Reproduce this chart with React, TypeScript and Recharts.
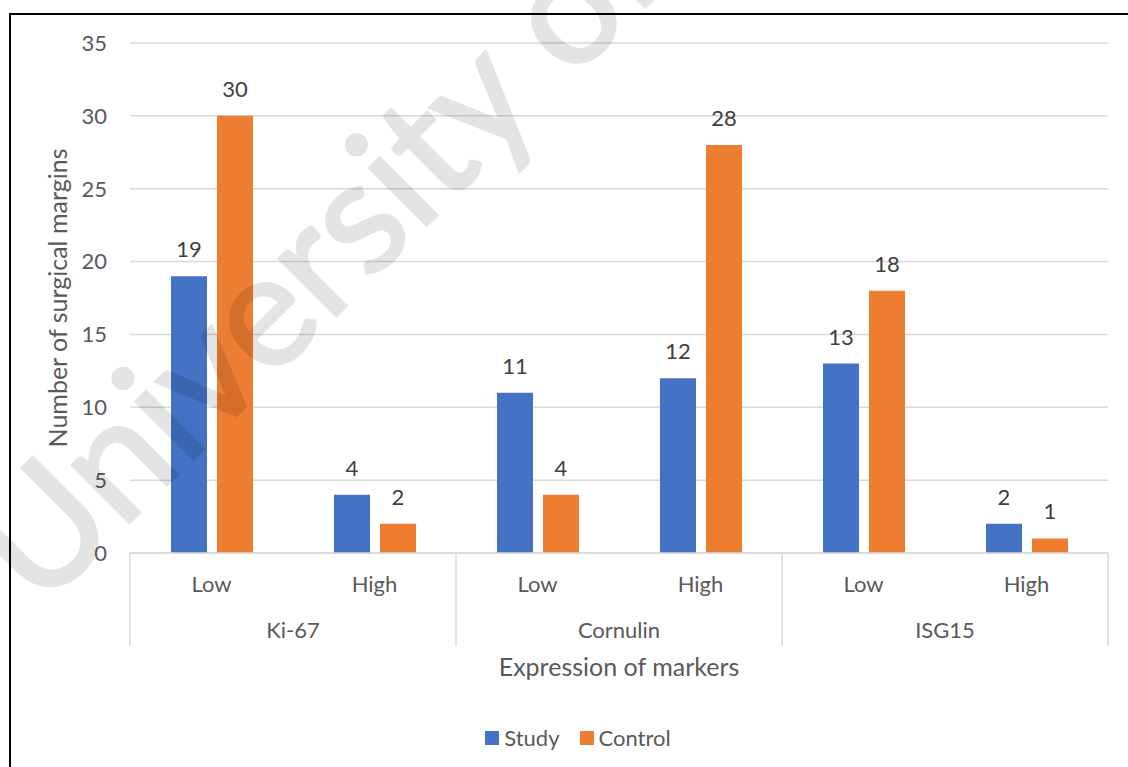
import { BarChart, Bar, XAxis, YAxis, CartesianGrid, Legend, LabelList } from 'recharts';

const levels = ['Low', 'High', 'Low', 'High', 'Low', 'High'];
const markers = ['Ki-67', 'Ki-67', 'Cornulin', 'Cornulin', 'ISG15', 'ISG15'];
const studyCounts = [19, 4, 11, 12, 13, 2];
const controlCounts = [30, 2, 4, 28, 18, 1];
const yTicks = [0, 5, 10, 15, 20, 25, 30, 35];

const chartData = levels.map((level, i) => ({
  level,
  marker: markers[i],
  study: studyCounts[i],
  control: controlCounts[i],
}));

const W = 1128;
const H = 767;
const MARGIN = { top: 43, right: 20, left: 20, bottom: 18 };
const Y_AXIS_W = 110;
const BAND = (W - MARGIN.left - MARGIN.right - Y_AXIS_W) / levels.length;

const FONT = 'Lato, "Open Sans", sans-serif';
const AXIS_TEXT = '#595959';
const LABEL_TEXT = '#404040';
const GRID = '#d9d9d9';
const BLUE = '#4472C4';
const ORANGE = '#ED7D31';

// two-level category axis: Low/High on top, marker name centred under each pair
const renderLevelTick = (props: any) => {
  const { x, y, payload, index } = props;
  const half = BAND / 2;
  const first = index % 2 === 0;
  return (
    <g>
      <text x={x} y={y + 39} textAnchor="middle" fill={AXIS_TEXT} fontSize={22} fontFamily={FONT}>
        {payload.value}
      </text>
      {first && (
        <text x={x + half} y={y + 85} textAnchor="middle" fill={AXIS_TEXT} fontSize={22} fontFamily={FONT}>
          {markers[index]}
        </text>
      )}
      {first && <line x1={x - half} x2={x - half} y1={y} y2={y + 93} stroke={GRID} strokeWidth={1.5} />}
      {index === levels.length - 1 && (
        <line x1={x + half} x2={x + half} y1={y} y2={y + 93} stroke={GRID} strokeWidth={1.5} />
      )}
    </g>
  );
};

const renderXTitle = (props: any) => {
  const { x, y, width } = props.viewBox;
  return (
    <text x={x + width / 2} y={y + 123} textAnchor="middle" fill={AXIS_TEXT} fontSize={25} fontFamily={FONT}>
      Expression of markers
    </text>
  );
};

const renderYTitle = (props: any) => {
  const { x, y, height } = props.viewBox;
  const cx = x + 47;
  const cy = y + height / 2;
  return (
    <text
      x={cx}
      y={cy}
      textAnchor="middle"
      transform={`rotate(-90, ${cx}, ${cy})`}
      fill={AXIS_TEXT}
      fontSize={25}
      fontFamily={FONT}
    >
      Number of surgical margins
    </text>
  );
};

const legendItems = [
  { name: 'Study', color: BLUE },
  { name: 'Control', color: ORANGE },
];

const renderLegend = () => (
  <div
    style={{
      height: 66,
      display: 'flex',
      justifyContent: 'center',
      alignItems: 'flex-end',
      paddingLeft: 28,
      boxSizing: 'border-box',
      fontFamily: FONT,
      fontSize: 22,
      color: AXIS_TEXT,
    }}
  >
    {legendItems.map((item) => (
      <div key={item.name} style={{ display: 'flex', alignItems: 'center', margin: '0 10px', lineHeight: '22px' }}>
        <span style={{ width: 14, height: 14, background: item.color, marginRight: 5, display: 'inline-block' }} />
        <span>{item.name}</span>
      </div>
    ))}
  </div>
);

export default function App() {
  return (
    <div style={{ position: 'absolute', left: 0, top: 0, width: W, height: H, overflow: 'hidden', background: '#fff' }}>
      <div
        style={{
          position: 'absolute',
          left: 9,
          top: 13,
          width: W + 50,
          height: H + 50,
          borderLeft: '2px solid #000',
          borderTop: '2px solid #000',
        }}
      />
      <BarChart width={W} height={H} data={chartData} margin={MARGIN} barSize={36} barGap={10}>
        <CartesianGrid vertical={false} stroke={GRID} strokeWidth={1.5} />
        <XAxis
          dataKey="level"
          interval={0}
          height={130}
          tickLine={false}
          tickSize={0}
          tickMargin={0}
          axisLine={{ stroke: GRID, strokeWidth: 1.5 }}
          tick={renderLevelTick}
          label={renderXTitle}
        />
        <YAxis
          width={Y_AXIS_W}
          domain={[0, 35]}
          ticks={yTicks}
          axisLine={false}
          tickLine={false}
          tickSize={0}
          tickMargin={23}
          tick={{ fill: AXIS_TEXT, fontSize: 22, fontFamily: FONT }}
          label={renderYTitle}
        />
        <Legend verticalAlign="bottom" height={66} content={renderLegend} />
        <Bar dataKey="study" name="Study" fill={BLUE} isAnimationActive={false}>
          <LabelList dataKey="study" position="top" offset={19} fill={LABEL_TEXT} fontSize={22} fontFamily={FONT} />
        </Bar>
        <Bar dataKey="control" name="Control" fill={ORANGE} isAnimationActive={false}>
          <LabelList dataKey="control" position="top" offset={19} fill={LABEL_TEXT} fontSize={22} fontFamily={FONT} />
        </Bar>
      </BarChart>
      {/* faint diagonal watermark laid over the whole figure */}
      <svg
        width={W}
        height={H}
        style={{ position: 'absolute', left: 0, top: 0, pointerEvents: 'none' }}
      >
        <g opacity={0.1}>
          <text
            x={40}
            y={612}
            transform="rotate(-45, 40, 612)"
            fontSize={160}
            fontFamily={FONT}
            fill="#000"
            stroke="#000"
            strokeWidth={3}
          >
            University of
          </text>
        </g>
      </svg>
    </div>
  );
}
